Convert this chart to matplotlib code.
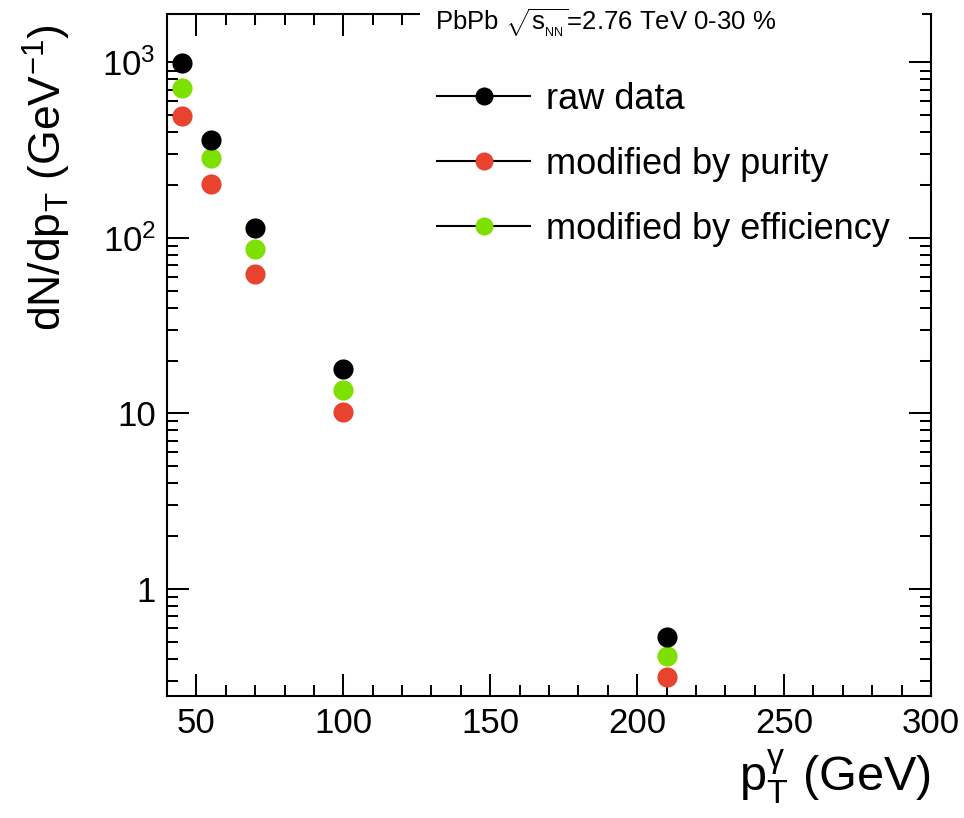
import numpy as np
import matplotlib
matplotlib.use('Agg')
import matplotlib.pyplot as plt
from matplotlib.ticker import FixedLocator, NullFormatter, FixedFormatter
from matplotlib.lines import Line2D

plt.rcParams['font.family'] = ['Liberation Sans', 'DejaVu Sans']
plt.rcParams['mathtext.fontset'] = 'custom'
plt.rcParams['mathtext.rm'] = 'Liberation Sans'
plt.rcParams['mathtext.it'] = 'Liberation Sans'
plt.rcParams['mathtext.bf'] = 'Liberation Sans:bold'

# --- DATA ---
PT_BINS = [45, 55, 70, 100, 210]
RAW = [990, 361, 114, 17.9, 0.53]
PURITY = [497, 202, 62, 10.2, 0.316]
EFFICIENCY = [713, 285, 87, 13.6, 0.415]

SERIES = [
    ("raw data", RAW, 'black'),
    ("modified by purity", PURITY, '#e8432f'),
    ("modified by efficiency", EFFICIENCY, '#7ee000'),
]

X_RANGE = (40, 300)
Y_RANGE = (0.245, 1890)
X_TICKS = [50, 100, 150, 200, 250, 300]
Y_TICKS = [1, 10, 100, 1000]
Y_TICK_LABELS = ['1', '10', r'$10^{2}$', r'$10^{3}$']

W, H = 964, 818


def main():
    fig = plt.figure(figsize=(W / 100, H / 100), dpi=100)
    ax = fig.add_axes([0.1732, 0.1491, 0.7926, 0.8338])

    # draw purity and efficiency first so black sits on top
    for label, vals, col in [SERIES[1], SERIES[2], SERIES[0]]:
        ax.plot(PT_BINS, vals, linestyle='none', marker='o', markersize=14.5,
                color=col, markeredgewidth=0, zorder=3)

    ax.set_yscale('log')
    ax.set_xlim(*X_RANGE)
    ax.set_ylim(*Y_RANGE)

    # ROOT-style ticks on all four sides
    ax.xaxis.set_major_locator(FixedLocator(X_TICKS))
    ax.xaxis.set_minor_locator(FixedLocator(np.arange(40, 301, 10)))
    ax.yaxis.set_major_locator(FixedLocator(Y_TICKS))
    ax.yaxis.set_major_formatter(FixedFormatter(Y_TICK_LABELS))
    minors = [m * 10.0 ** e for e in range(-1, 4) for m in range(2, 10)]
    ax.yaxis.set_minor_locator(FixedLocator(minors))
    ax.yaxis.set_minor_formatter(NullFormatter())
    ax.tick_params(which='both', direction='in', top=True, right=True,
                   labelsize=25, width=1.45, pad=8)
    ax.tick_params(which='major', length=15.8)
    ax.tick_params(which='minor', length=7.9)
    for sp in ax.spines.values():
        sp.set_linewidth(1.5)

    ax.set_xlabel(r'p$_{\mathrm{T}}^{\gamma}$ (GeV)', fontsize=35, ha='right')
    ax.xaxis.set_label_coords(1.0, -0.075)
    ax.set_ylabel(r'dN/dp$_{\mathrm{T}}$ (GeV$^{-1}$)', fontsize=32, ha='right')
    ax.yaxis.set_label_coords(-0.123, 0.985)

    # white header box hiding the top frame behind the collision label
    fig.patches.append(plt.Rectangle((420 / W, 1 - 48 / H), 502 / W, 48 / H,
                                     transform=fig.transFigure,
                                     facecolor='white', edgecolor='none',
                                     zorder=1))
    fig.text(435 / W, 1 - 23 / H, r'PbPb $\sqrt{s_{_{NN}}}$=2.76 TeV 0-30 %',
             fontsize=18.5, ha='left', va='center', zorder=2)

    handles = [Line2D([], [], color='black', linewidth=1.5, marker='o',
                      markersize=13, markerfacecolor=col, markeredgewidth=0)
               for _, _, col in SERIES]
    ax.legend(handles, [s[0] for s in SERIES], loc='upper left',
              bbox_to_anchor=(437 / W, 1 - 82 / H),
              bbox_transform=fig.transFigure, frameon=False, fontsize=26,
              handlelength=2.58, handletextpad=0.44, labelspacing=0.83,
              borderpad=0, borderaxespad=0)

    fig.savefig('out.png', dpi=100)


if __name__ == '__main__':
    main()
